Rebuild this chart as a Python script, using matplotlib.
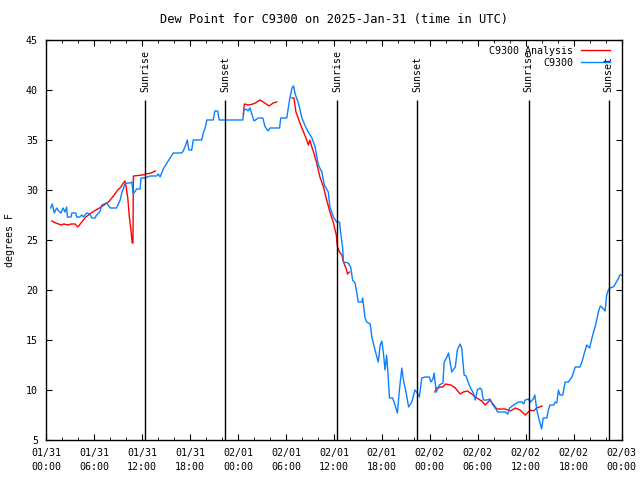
import matplotlib
matplotlib.use('Agg')
import matplotlib.pyplot as plt
from matplotlib import rcParams

config = {
    "font.family": ['DejaVu Sans Mono'],
    "font.size": 7.2,
}
rcParams.update(config)

# hours since 2025-01-31 00:00 UTC
obs_hours = [0.55, 0.75, 1.0, 1.3, 1.55, 1.85, 2.1, 2.35, 2.55, 2.65, 3.1, 3.2, 3.7, 3.8, 4.2,
             4.45, 4.65, 5.05, 5.45, 5.7, 6.1, 6.3, 6.7, 6.95, 7.55, 7.75, 8.0, 8.8, 9.25, 9.45,
             9.85, 10.15, 10.5, 10.7, 10.9, 11.3, 11.75, 11.85, 12.35, 13.0, 13.8, 14.0, 14.25,
             14.65, 15.1, 15.9, 16.95, 17.15, 17.45, 17.65, 17.85, 18.2, 18.4, 19.45, 19.65,
             19.85, 20.1, 20.9, 21.1, 21.45, 21.65, 24.6, 24.75, 25.0, 25.25, 25.5, 25.85, 26.0,
             26.55, 27.1, 27.4, 27.8, 28.0, 29.2, 29.35, 30.1, 30.45, 30.75, 30.95, 31.15, 31.55,
             32.0, 32.4, 32.8, 33.25, 33.65, 34.05, 34.5, 34.8, 35.3, 35.5, 35.95, 36.35, 36.7,
             36.85, 37.1, 37.2, 37.8, 38.1, 38.35, 38.65, 38.85, 39.05, 39.5, 39.6, 39.9, 40.1,
             40.55, 40.75, 41.15, 41.55, 41.8, 42.0, 42.2, 42.4, 42.6, 42.8, 42.95, 43.35, 43.65,
             43.95, 44.2, 44.5, 44.7, 45.05, 45.35, 45.75, 46.15, 46.45, 46.7, 47.0, 47.4, 47.95,
             48.15, 48.4, 48.55, 48.8, 49.2, 49.65, 49.8, 50.15, 50.35, 50.75, 51.2, 51.45, 51.8,
             52.0, 52.3, 52.55, 52.85, 53.05, 53.45, 53.7, 53.95, 54.3, 54.5, 54.7, 55.15, 55.55,
             55.9, 56.2, 56.5, 57.45, 57.75, 58.0, 58.5, 59.1, 59.55, 59.75, 59.95, 60.35, 60.6,
             60.95, 61.15, 61.4, 61.7, 62.0, 62.2, 62.65, 62.85, 63.05, 63.5, 63.7, 63.9, 64.1,
             64.3, 64.65, 64.95, 65.35, 65.8, 66.2, 66.8, 67.05, 67.35, 67.65, 68.0, 68.3, 68.5,
             68.7, 68.9, 69.1, 69.35, 69.65, 69.95, 70.15, 70.35, 70.55, 70.95, 71.15, 71.5,
             71.8, 72.0]
obs_dewpt = [28.2, 28.6, 27.7, 28.2, 27.9, 27.7, 28.2, 27.8, 28.3, 27.3, 27.3, 27.7, 27.7, 27.3,
             27.3, 27.5, 27.3, 27.7, 27.6, 27.2, 27.2, 27.5, 27.8, 28.5, 28.7, 28.5, 28.2, 28.2,
             29.0, 29.7, 30.6, 30.7, 30.7, 30.8, 29.6, 30.1, 30.1, 31.2, 31.2, 31.4, 31.4, 31.6,
             31.3, 32.1, 32.7, 33.7, 33.7, 33.9, 34.5, 35.0, 34.0, 34.0, 35.0, 35.0, 35.7, 36.1,
             37.0, 37.0, 37.9, 37.9, 37.0, 37.0, 38.0, 38.1, 37.9, 38.2, 37.3, 36.9, 37.2, 37.2,
             36.3, 35.9, 36.2, 36.2, 37.2, 37.2, 39.0, 40.2, 40.4, 39.6, 38.7, 37.2, 36.4, 35.8,
             35.2, 34.3, 32.5, 31.8, 30.5, 29.8, 28.3, 27.3, 26.8, 26.8, 25.7, 24.2, 22.8, 22.7,
             22.3, 21.0, 20.7, 19.8, 18.8, 18.8, 19.2, 17.2, 16.8, 16.6, 15.3, 14.0, 12.8, 14.5,
             14.9, 13.7, 12.0, 13.5, 11.3, 9.2, 9.2, 8.5, 7.7, 10.0, 12.2, 11.0, 9.7, 8.3, 8.8,
             10.0, 9.7, 9.3, 11.2, 11.3, 11.3, 10.8, 11.1, 11.7, 9.8, 10.5, 10.7, 12.8, 13.3, 13.7,
             11.8, 12.3, 14.0, 14.6, 14.2, 11.5, 11.4, 10.7, 10.3, 9.7, 9.0, 10.0, 10.2, 10.0, 9.0,
             9.0, 9.1, 8.5, 8.2, 7.8, 7.8, 7.6, 8.2, 8.5, 8.8, 8.8, 8.6, 9.0, 9.1, 8.8, 9.1, 9.5,
             8.0, 7.0, 6.1, 7.2, 7.2, 8.0, 8.5, 8.5, 8.8, 8.7, 10.0, 9.5, 9.5, 10.8, 10.8, 11.3,
             12.3, 12.3, 12.8, 13.7, 14.5, 14.2, 15.2, 15.8, 16.3, 17.0, 17.8, 18.4, 18.2, 17.9,
             19.5, 20.0, 20.2, 20.3, 20.5, 21.0, 21.5, 21.5]

# analysis, four separate pieces
ana1_hours = [0.7, 1.2, 1.85, 2.2, 2.7, 3.1, 3.6, 3.95, 4.35, 4.95, 5.8, 6.65, 7.25, 7.9, 8.5,
              8.95, 9.35, 9.65, 9.85, 10.0, 10.2, 10.4, 10.6, 10.75, 10.85, 10.9, 12.05, 12.5,
              13.1, 13.65]
ana1_dewpt = [26.9, 26.7, 26.5, 26.6, 26.5, 26.6, 26.6, 26.3, 26.7, 27.3, 27.8, 28.2, 28.5,
              28.9, 29.5, 30.0, 30.3, 30.7, 30.9, 30.3, 29.2, 27.3, 26.0, 24.7, 24.7, 31.4,
              31.5, 31.6, 31.7, 31.9]
ana2_hours = [24.65, 24.8, 25.3, 25.9, 26.15, 26.75, 27.15, 27.9, 28.4, 28.85]
ana2_dewpt = [37.5, 38.6, 38.5, 38.6, 38.7, 39.0, 38.8, 38.4, 38.7, 38.8]
ana3_hours = [30.75, 31.0, 31.25, 31.75, 32.2, 32.6, 32.8, 33.0, 33.2, 33.45, 33.85, 34.25,
              34.7, 35.1, 35.5, 35.95, 36.3, 36.45, 36.7, 37.0, 37.2, 37.55, 37.7, 37.95]
ana3_dewpt = [39.2, 39.2, 37.8, 36.7, 35.8, 35.0, 34.5, 35.0, 34.4, 33.8, 32.7, 31.3, 30.3,
              29.0, 27.8, 26.7, 25.5, 24.3, 23.8, 23.5, 22.8, 22.1, 21.6, 21.8]
ana4_hours = [48.65, 48.8, 49.05, 49.3, 49.65, 49.95, 50.65, 51.2, 51.8, 52.2, 52.7, 53.25,
              53.9, 54.5, 54.95, 55.55, 56.0, 56.4, 56.8, 57.45, 58.1, 58.7, 59.3, 59.95, 60.6,
              60.95, 61.4, 62.05]
ana4_dewpt = [9.8, 10.2, 10.2, 10.3, 10.3, 10.6, 10.5, 10.2, 9.6, 9.8, 9.9, 9.6, 9.2, 8.9,
              8.5, 9.0, 8.5, 8.1, 8.1, 8.1, 7.9, 8.2, 8.0, 7.5, 8.0, 7.9, 8.2, 8.4]

sun_hours = [12.4, 22.42, 36.43, 46.45, 60.37, 70.38]
sun_labels = ['Sunrise', 'Sunset', 'Sunrise', 'Sunset', 'Sunrise', 'Sunset']

tick_hours = list(range(0, 73, 6))
tick_labels = ['01/31\n00:00', '01/31\n06:00', '01/31\n12:00', '01/31\n18:00',
               '02/01\n00:00', '02/01\n06:00', '02/01\n12:00', '02/01\n18:00',
               '02/02\n00:00', '02/02\n06:00', '02/02\n12:00', '02/02\n18:00',
               '02/03\n00:00']


def main():
    fig = plt.figure(figsize=(6.4, 4.8), dpi=100)
    ax = fig.add_axes([0.0723, 0.0833, 0.8988, 0.8334])

    red = '#ff0000'
    blue = '#0a80ff'
    ax.plot(ana1_hours, ana1_dewpt, color=red, lw=1.0, label='C9300 Analysis')
    ax.plot(ana2_hours, ana2_dewpt, color=red, lw=1.0)
    ax.plot(ana3_hours, ana3_dewpt, color=red, lw=1.0)
    ax.plot(ana4_hours, ana4_dewpt, color=red, lw=1.0)
    ax.plot(obs_hours, obs_dewpt, color=blue, lw=1.0, label='C9300')

    for t, lab in zip(sun_hours, sun_labels):
        ax.vlines(t, 5, 39, color='black', lw=1.0)
        ax.text(t, 39.8, lab, rotation=90, ha='center', va='bottom')

    ax.set_xlim(0, 72)
    ax.set_ylim(5, 45)
    ax.set_xticks(tick_hours)
    ax.set_xticklabels(tick_labels, linespacing=1.45)
    ax.set_xticks(range(0, 73, 2), minor=True)
    ax.set_yticks(range(5, 46, 5))
    ax.tick_params(which='both', direction='in', top=True, right=True, color='black')
    ax.tick_params(which='major', length=4.5, pad=6)
    ax.tick_params(which='minor', length=2.5)
    for s in ax.spines.values():
        s.set_linewidth(1.0)

    ax.set_title('Dew Point for C9300 on 2025-Jan-31 (time in UTC)', pad=12)
    ax.set_ylabel('degrees F', labelpad=8)

    leg = ax.legend(loc='upper right', bbox_to_anchor=(0.987, 0.995), frameon=False,
                    markerfirst=False, handlelength=2.9, borderaxespad=0.0,
                    labelspacing=0.2, handletextpad=0.8)
    for t in leg.get_texts():
        t.set_ha('right')

    fig.savefig('out.png', dpi=100)


if __name__ == '__main__':
    main()
